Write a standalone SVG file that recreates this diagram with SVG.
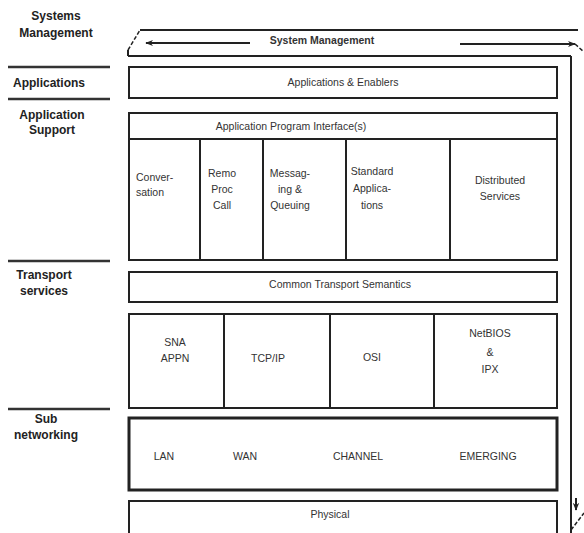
<svg xmlns="http://www.w3.org/2000/svg" width="584" height="533" viewBox="0 0 584 533">
<defs>
<style>
.lbl{font-family:"Liberation Sans",Arial,sans-serif;font-size:12px;font-weight:bold;fill:#222;text-anchor:middle}
.t{font-family:"Liberation Sans",Arial,sans-serif;font-size:10.5px;fill:#333;text-anchor:middle}
.tl{font-family:"Liberation Sans",Arial,sans-serif;font-size:10.5px;fill:#333;text-anchor:start}
.box{fill:#fff;stroke:#222;stroke-width:2}
.div{stroke:#222;stroke-width:2;fill:none}
.sep{stroke:#333;stroke-width:2.5}
.ln{stroke:#222;stroke-width:2;fill:none}
</style>
<marker id="ah" viewBox="0 0 10 10" refX="9" refY="5" markerWidth="8" markerHeight="8" orient="auto" markerUnits="userSpaceOnUse">
<path d="M0,1 L10,5 L0,9 L3,5 z" fill="#222"/>
</marker>
</defs>
<rect width="584" height="533" fill="#fff"/>

<g id="left-labels">
<text class="lbl" x="56" y="20">Systems</text>
<text class="lbl" x="56" y="37">Management</text>
<line class="sep" x1="8" y1="67" x2="110" y2="67"/>
<text class="lbl" x="13" y="87" style="text-anchor:start">Applications</text>
<line class="sep" x1="8" y1="99" x2="110" y2="99"/>
<text class="lbl" x="52" y="119">Application</text>
<text class="lbl" x="52" y="134">Support</text>
<line class="sep" x1="8" y1="261" x2="110" y2="261"/>
<text class="lbl" x="44" y="279">Transport</text>
<text class="lbl" x="44" y="295">services</text>
<line class="sep" x1="8" y1="409" x2="110" y2="409"/>
<text class="lbl" x="46" y="423">Sub</text>
<text class="lbl" x="46" y="439">networking</text>
</g>

<g id="system-management">
<line class="ln" x1="140" y1="30" x2="578" y2="30"/>
<line class="ln" x1="128" y1="56" x2="571" y2="56"/>
<line class="ln" x1="128" y1="56" x2="128" y2="50" />
<line x1="128" y1="50" x2="140" y2="30" stroke="#222" stroke-width="1.5" stroke-dasharray="4,2"/>
<line class="ln" x1="571" y1="56" x2="571" y2="533"/>
<line x1="575" y1="44" x2="584" y2="52" stroke="#222" stroke-width="1.5" stroke-dasharray="4,2"/>
<line x1="571" y1="530" x2="584" y2="513" stroke="#222" stroke-width="1.5" stroke-dasharray="4,2"/>
<text class="t" x="322" y="44" style="font-weight:bold">System Management</text>
</g>

<g id="connectors">
<line class="ln" x1="250" y1="43" x2="146" y2="43" marker-end="url(#ah)"/>
<line class="ln" x1="460" y1="44" x2="575" y2="44" marker-end="url(#ah)"/>
<line class="ln" x1="576" y1="498" x2="576" y2="510" marker-end="url(#ah)"/>
</g>

<g id="applications">
<rect class="box" x="129" y="67" width="428" height="31"/>
<text class="t" x="343" y="86">Applications &amp; Enablers</text>
</g>

<g id="application-support">
<rect class="box" x="129" y="113" width="428" height="147"/>
<line class="div" x1="129" y1="139" x2="557" y2="139"/>
<text class="t" x="291" y="130">Application Program Interface(s)</text>
<line class="div" x1="200" y1="139" x2="200" y2="260"/>
<line class="div" x1="263" y1="139" x2="263" y2="260"/>
<line class="div" x1="346" y1="139" x2="346" y2="260"/>
<line class="div" x1="450" y1="139" x2="450" y2="260"/>
<text class="tl" x="136" y="181">Conver-</text>
<text class="tl" x="136" y="196">sation</text>
<text class="t" x="222" y="177">Remo</text>
<text class="t" x="222" y="193">Proc</text>
<text class="t" x="222" y="209">Call</text>
<text class="t" x="290" y="177">Messag-</text>
<text class="t" x="290" y="193">ing &amp;</text>
<text class="t" x="290" y="209">Queuing</text>
<text class="t" x="372" y="175">Standard</text>
<text class="t" x="372" y="192">Applica-</text>
<text class="t" x="372" y="209">tions</text>
<text class="t" x="500" y="184">Distributed</text>
<text class="t" x="500" y="200">Services</text>
</g>

<g id="transport-semantics">
<rect class="box" x="129" y="272" width="428" height="30"/>
<text class="t" x="340" y="288">Common Transport Semantics</text>
</g>

<g id="transport-protocols">
<rect class="box" x="129" y="314" width="428" height="94"/>
<line class="div" x1="224" y1="314" x2="224" y2="408"/>
<line class="div" x1="330" y1="314" x2="330" y2="408"/>
<line class="div" x1="434" y1="314" x2="434" y2="408"/>
<text class="t" x="175" y="346">SNA</text>
<text class="t" x="175" y="362">APPN</text>
<text class="t" x="268" y="362">TCP/IP</text>
<text class="t" x="372" y="361">OSI</text>
<text class="t" x="490" y="337">NetBIOS</text>
<text class="t" x="490" y="356">&amp;</text>
<text class="t" x="490" y="373">IPX</text>
</g>

<g id="subnetworking">
<rect x="129" y="418" width="428" height="72" fill="#fff" stroke="#222" stroke-width="3"/>
<text class="t" x="164" y="460">LAN</text>
<text class="t" x="245" y="460">WAN</text>
<text class="t" x="358" y="460">CHANNEL</text>
<text class="t" x="488" y="460">EMERGING</text>
</g>

<g id="physical">
<rect class="box" x="129" y="501" width="428" height="40"/>
<text class="t" x="330" y="518">Physical</text>
</g>
</svg>
